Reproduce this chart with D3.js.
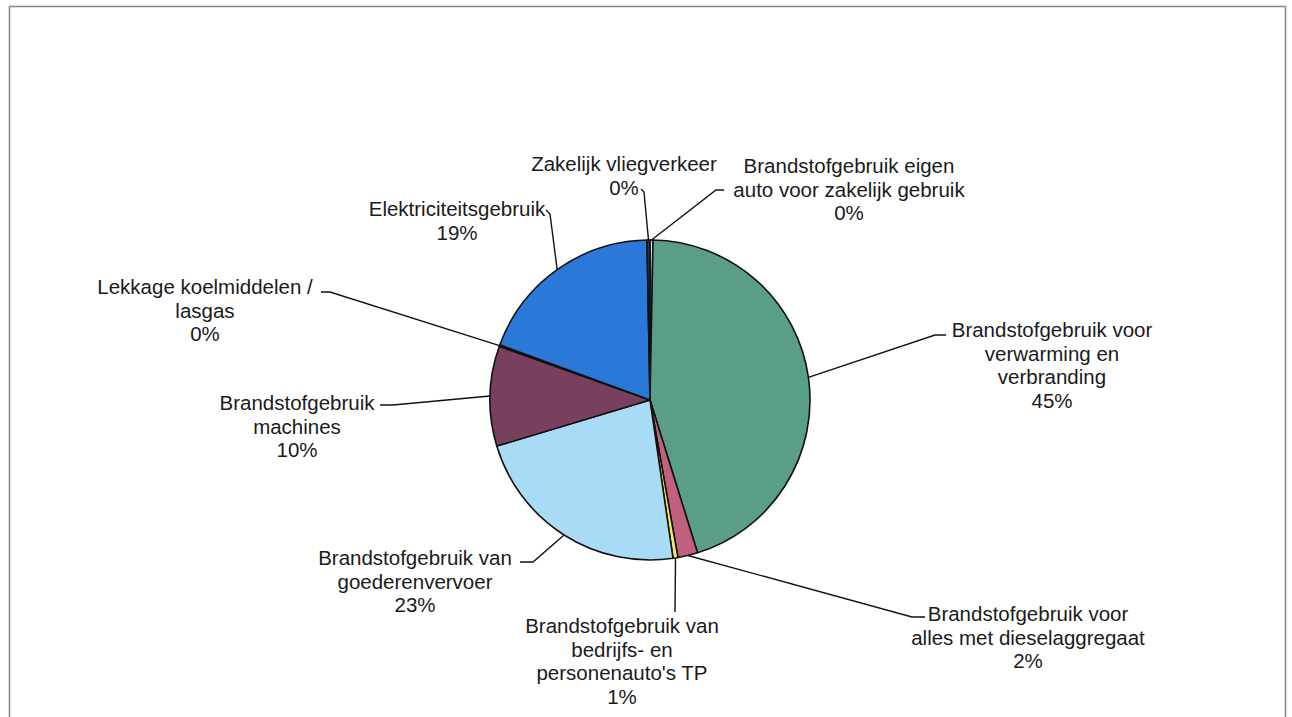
<!DOCTYPE html>
<html>
<head>
<meta charset="utf-8">
<script src="https://cdn.jsdelivr.net/npm/d3@7"></script>
<style>
  html, body { margin: 0; padding: 0; background: #fff; }
  svg { display: block; }
</style>
</head>
<body>
<svg width="1292" height="717"></svg>
<script>
// categories, clockwise from 12 o'clock
const categories = [
  "Brandstofgebruik eigen auto voor zakelijk gebruik",
  "Brandstofgebruik voor verwarming en verbranding",
  "Brandstofgebruik voor alles met dieselaggregaat",
  "Brandstofgebruik van bedrijfs- en personenauto's TP",
  "Brandstofgebruik van goederenvervoer",
  "Brandstofgebruik machines",
  "Lekkage koelmiddelen / lasgas",
  "Elektriciteitsgebruik",
  "Zakelijk vliegverkeer"
];
// share in percent
const values = [0.3, 44.9, 2.0, 0.5, 22.65, 10.1, 0.15, 19.1, 0.3];
// how each label is broken over lines (as in the original)
const labelLines = [
  ["Brandstofgebruik eigen", "auto voor zakelijk gebruik"],
  ["Brandstofgebruik voor", "verwarming en", "verbranding"],
  ["Brandstofgebruik voor", "alles met dieselaggregaat"],
  ["Brandstofgebruik van", "bedrijfs- en", "personenauto's TP"],
  ["Brandstofgebruik van", "goederenvervoer"],
  ["Brandstofgebruik", "machines"],
  ["Lekkage koelmiddelen /", "lasgas"],
  ["Elektriciteitsgebruik"],
  ["Zakelijk vliegverkeer"]
];

const colors = ["#dfe9da", "#5a9e8a", "#c0607c", "#f2ec5a", "#a8dcf6",
                "#78405c", "#2c2c55", "#2a78d8", "#1c3566"];

// label placement: text centre x, first baseline y, leader elbow and stub end
const labelLayout = [
  { x: 849, y: 173, elbow: [716, 190], stub: [724, 190] },
  { x: 1052, y: 337, elbow: [935, 335], stub: [946, 335] },
  { x: 1028, y: 621, elbow: [912, 617], stub: [925, 617] },
  { x: 622, y: 633, elbow: [675, 612], stub: null },
  { x: 415, y: 565, elbow: [533, 562], stub: [520, 562] },
  { x: 297, y: 410, elbow: [393, 405], stub: [380, 405] },
  { x: 205, y: 294, elbow: [330, 292], stub: [321, 292] },
  { x: 457, y: 216, elbow: [550, 214], stub: [546, 210] },
  { x: 624, y: 171, elbow: [644, 192], stub: [641, 189] }
];

const width = 1292, height = 717;
const cx = 650, cy = 400, radius = 160;
const lineH = 23.5;

const svg = d3.select("svg");

// frame round the chart area
svg.append("rect")
  .attr("x", 9.5).attr("y", 6.5)
  .attr("width", 1276).attr("height", 730)
  .attr("fill", "none")
  .attr("stroke", "#8c8c8c")
  .attr("stroke-width", 1.6);

const data = categories.map((c, i) => ({ name: c, value: values[i], idx: i }));

const pie = d3.pie()
  .sort(null)
  .value(d => d.value);

const arc = d3.arc()
  .innerRadius(0)
  .outerRadius(radius);

const arcs = pie(data);

const g = svg.append("g")
  .attr("transform", `translate(${cx},${cy})`);

g.selectAll("path.slice")
  .data(arcs)
  .join("path")
  .attr("class", "slice")
  .attr("d", arc)
  .attr("fill", d => colors[d.data.idx])
  .attr("stroke", "#111")
  .attr("stroke-width", 1.6)
  .attr("stroke-linejoin", "round");

// leader lines from the edge of each slice
const leaders = svg.append("g")
  .attr("fill", "none")
  .attr("stroke", "#111")
  .attr("stroke-width", 1.4);

arcs.forEach(d => {
  const mid = (d.startAngle + d.endAngle) / 2;
  const px = cx + Math.sin(mid) * radius;
  const py = cy - Math.cos(mid) * radius;
  const lay = labelLayout[d.data.idx];
  const pts = [[px, py], lay.elbow];
  if (lay.stub) pts.push(lay.stub);
  leaders.append("path").attr("d", d3.line()(pts));
});

// labels
const labels = svg.append("g")
  .attr("font-family", "Arial, 'Liberation Sans', sans-serif")
  .attr("font-size", 20.5)
  .attr("fill", "#1a1a1a")
  .attr("text-anchor", "middle");

arcs.forEach(d => {
  const lay = labelLayout[d.data.idx];
  const lines = labelLines[d.data.idx].concat([Math.round(d.data.value) + "%"]);
  const t = labels.append("text");
  lines.forEach((ln, k) => {
    t.append("tspan")
      .attr("x", lay.x)
      .attr("y", lay.y + k * lineH)
      .text(ln);
  });
});
</script>
</body>
</html>
